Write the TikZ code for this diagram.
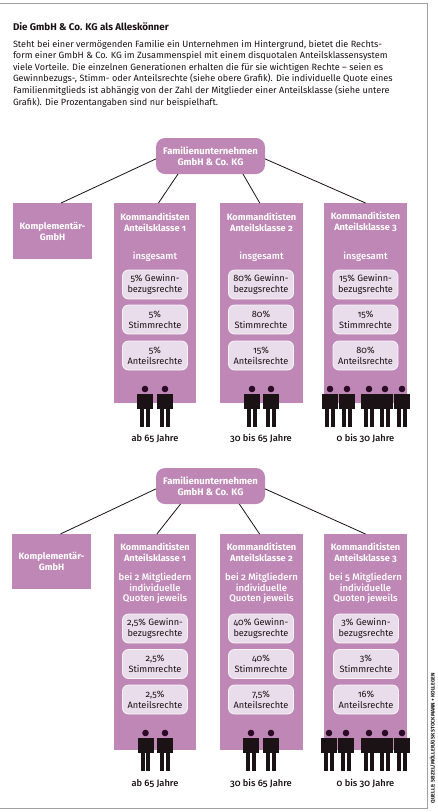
\documentclass[tikz,border=0pt]{standalone}
\usepackage{fontspec}
\setmainfont[Numbers=OldStyle]{Fira Sans}
\newfontfamily\medfont[Numbers=OldStyle]{Fira Sans Medium}
\definecolor{pinkbar}{HTML}{BF87B5}
\definecolor{lightbox}{HTML}{E9DDEB}
\definecolor{framegray}{HTML}{A0A0A0}
\definecolor{inkblack}{HTML}{1A1214}
\definecolor{headdark}{HTML}{2A0A25}
\tikzset{
  x=1pt,y=-1pt,
  every node/.style={inner sep=0pt,outer sep=0pt},
  barbox/.style={fill=pinkbar,anchor=north west},
  famnode/.style={fill=pinkbar,rounded corners=9pt,minimum width=109pt,minimum height=36pt,align=center,text=white,font=\fontsize{9.5}{10.8}\selectfont\bfseries},
  barhead/.style={align=center,text=white,font=\fontsize{9.2}{11}\selectfont\bfseries},
  barsub/.style={align=center,text=white,font=\fontsize{9.5}{10.6}\selectfont\medfont},
  rightbox/.style={fill=lightbox,draw=white!70!lightbox,line width=0.8pt,rounded corners=6pt,minimum width=65pt,minimum height=29pt,align=center,text=inkblack,font=\fontsize{9.2}{10.6}\selectfont},
  agelabel/.style={text=inkblack,font=\fontsize{9.3}{10}\selectfont\medfont},
  link/.style={draw=inkblack,line width=0.8pt},
}
\newcommand{\person}[2]{%
  \fill[headdark] (#1,#2) circle (3.3);
  \fill[inkblack] (#1-8,#2+4.5) rectangle (#1+8,#2+20);
  \fill[inkblack] (#1-4.7,#2+20) rectangle (#1-0.7,#2+38);
  \fill[inkblack] (#1+0.7,#2+20) rectangle (#1+4.7,#2+38);
}
\begin{document}
\begin{tikzpicture}
\useasboundingbox (0,0) rectangle (438,812);
\fill[white] (0,0) rectangle (438,812);
\draw[framegray,line width=1pt] (0,3.5) -- (427,3.5) -- (427,808) -- (0,808);
\node[anchor=west,text=inkblack,font=\fontsize{9.8}{11}\selectfont\bfseries] (title) at (13,27) {Die GmbH \& Co. KG als Alleskönner};
\node[anchor=north west,align=left,text=inkblack,font=\fontsize{9.1}{11.6}\selectfont] (intro) at (13,40) {Steht bei einer vermögenden Familie ein Unternehmen im Hintergrund, bietet die Rechts-\\form einer GmbH \& Co. KG im Zusammenspiel mit einem disquotalen Anteilsklassensystem\\viele Vorteile. Die einzelnen Generationen erhalten die für sie wichtigen Rechte – seien es\\Gewinnbezugs-, Stimm- oder Anteilsrechte (siehe obere Grafik). Die individuelle Quote eines\\Familienmitglieds ist abhängig von der Zahl der Mitglieder einer Anteilsklasse (siehe untere\\Grafik). Die Prozentangaben sind nur beispielhaft.};

% upper chart
\node[famnode] (famA) at (210.5,156) {Familienunternehmen\\GmbH \& Co. KG};
\node[barbox,minimum width=79pt,minimum height=56pt] (kompA) at (13,203) {};
\node[barhead] at (kompA.center) {Komplementär-\\GmbH};
\node[barbox,minimum width=82pt,minimum height=200pt] (barA1) at (114,203) {};
\node[barbox,minimum width=83pt,minimum height=200pt] (barA2) at (220,203) {};
\node[barbox,minimum width=83pt,minimum height=200pt] (barA3) at (324,203) {};
\draw[link] (famA.183) -- (kompA.73);
\draw[link] (famA.209) -- (barA1.88);
\draw[link] (famA.331) -- (barA2.91);
\draw[link] (famA.-3) -- (barA3.north);
\node[barhead] (hA1) at (155,222) {Kommanditisten\\Anteilsklasse 1};
\node[barhead] (hA2) at (261.5,222) {Kommanditisten\\Anteilsklasse 2};
\node[barhead] (hA3) at (365.5,222) {Kommanditisten\\Anteilsklasse 3};
\node[barsub] (sA1) at (155,257) {insgesamt};
\node[barsub] (sA2) at (261.5,257) {insgesamt};
\node[barsub] (sA3) at (365.5,257) {insgesamt};
\node[rightbox] (a11) at (155,284.5) {5\% Gewinn-\\bezugsrechte};
\node[rightbox] (a12) at (155,319.5) {5\%\\Stimmrechte};
\node[rightbox] (a13) at (155,355.5) {5\%\\Anteilsrechte};
\node[rightbox] (a21) at (261,284.5) {80\% Gewinn-\\bezugsrechte};
\node[rightbox] (a22) at (261,319.5) {80\%\\Stimmrechte};
\node[rightbox] (a23) at (261,355.5) {15\%\\Anteilsrechte};
\node[rightbox] (a31) at (365.5,284.5) {15\% Gewinn-\\bezugsrechte};
\node[rightbox] (a32) at (365.5,319.5) {15\%\\Stimmrechte};
\node[rightbox] (a33) at (365.5,355.5) {80\%\\Anteilsrechte};
\foreach \px in {145,165,252,271,330,347,369,385,402} {\person{\px}{389}}
\node[agelabel] (ageA1) at (155,439) {ab 65 Jahre};
\node[agelabel] (ageA2) at (261,439) {30 bis 65 Jahre};
\node[agelabel] (ageA3) at (365.5,439) {0 bis 30 Jahre};

% lower chart
\node[famnode] (famB) at (210.5,486) {Familienunternehmen\\GmbH \& Co. KG};
\node[barbox,minimum width=79pt,minimum height=55pt] (kompB) at (12,534) {};
\node[barhead] at (kompB.center) {Komplementär-\\GmbH};
\node[barbox,minimum width=82pt,minimum height=216pt] (barB1) at (114,534) {};
\node[barbox,minimum width=83pt,minimum height=216pt] (barB2) at (220,534) {};
\node[barbox,minimum width=83pt,minimum height=216pt] (barB3) at (324,534) {};
\draw[link] (famB.183) -- (kompB.72);
\draw[link] (famB.211) -- (barB1.89);
\draw[link] (famB.328) -- (barB2.91);
\draw[link] (famB.-3) -- (barB3.north);
\node[barhead] (hB1) at (155,552.5) {Kommanditisten\\Anteilsklasse 1};
\node[barhead] (hB2) at (261.5,552.5) {Kommanditisten\\Anteilsklasse 2};
\node[barhead] (hB3) at (365.5,552.5) {Kommanditisten\\Anteilsklasse 3};
\node[barsub] (sB1) at (155,588.5) {bei 2 Mitgliedern\\individuelle\\Quoten jeweils};
\node[barsub] (sB2) at (261.5,588.5) {bei 2 Mitgliedern\\individuelle\\Quoten jeweils};
\node[barsub] (sB3) at (365.5,588.5) {bei 5 Mitgliedern\\individuelle\\Quoten jeweils};
\node[rightbox] (b11) at (155,628.5) {2,5\% Gewinn-\\bezugsrechte};
\node[rightbox] (b12) at (155,664) {2,5\%\\Stimmrechte};
\node[rightbox] (b13) at (155,699.5) {2,5\%\\Anteilsrechte};
\node[rightbox] (b21) at (261,628.5) {40\% Gewinn-\\bezugsrechte};
\node[rightbox] (b22) at (261,664) {40\%\\Stimmrechte};
\node[rightbox] (b23) at (261,699.5) {7,5\%\\Anteilsrechte};
\node[rightbox] (b31) at (366,628.5) {3\% Gewinn-\\bezugsrechte};
\node[rightbox] (b32) at (366,664) {3\%\\Stimmrechte};
\node[rightbox] (b33) at (366,699.5) {16\%\\Anteilsrechte};
\foreach \px in {145.5,165,251,271,329,346,369,385,402} {\person{\px}{733}}
\node[agelabel] (ageB1) at (155,784) {ab 65 Jahre};
\node[agelabel] (ageB2) at (261,784) {30 bis 65 Jahre};
\node[agelabel] (ageB3) at (365.5,784) {0 bis 30 Jahre};

\node[rotate=90,anchor=west,text=inkblack,font=\fontsize{5.2}{5}\selectfont\bfseries] (src) at (432.5,803) {QUELLE: SEIZEL/MÖLLER/GSK STOCKMANN + KOLLEGEN};
\end{tikzpicture}
\end{document}
